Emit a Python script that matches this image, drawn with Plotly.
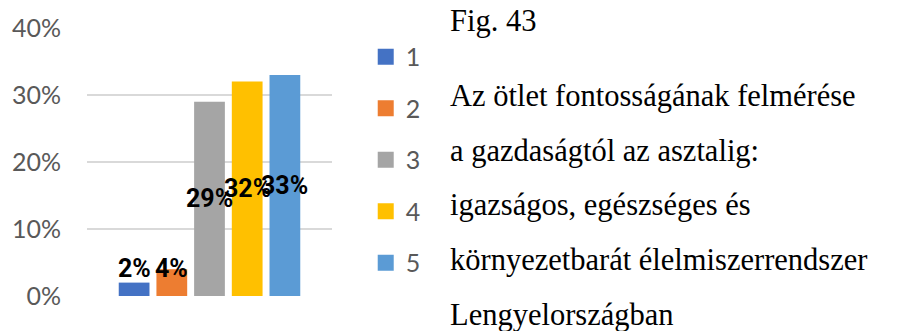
import plotly.graph_objects as go

# Survey answers (importance rating 1-5) and share of respondents
categories = ["1", "2", "3", "4", "5"]
shares = [0.02, 0.04, 0.29, 0.32, 0.33]
colors = ["#4472C4", "#ED7D31", "#A5A5A5", "#FFC000", "#5B9BD5"]
y_ticks = [0, 0.1, 0.2, 0.3, 0.4]
y_tick_labels = ["0%", "10%", "20%", "30%", "40%"]
caption_title = "Fig. 43"
caption_lines = [
    "Az ötlet fontosságának felmérése",
    "a gazdaságtól az asztalig:",
    "igazságos, egészséges és",
    "környezetbarát élelmiszerrendszer",
    "Lengyelországban",
]

W, H = 899, 331
L, R, T, B = 85, 567, 24, 35
PW, PH = W - L - R, H - T - B


def px_x(px):
    return (px - L) / PW


def px_y(py):
    return (H - B - py) / PH


fig = go.Figure()

for i, (cat, val, col) in enumerate(zip(categories, shares, colors)):
    fig.add_trace(go.Bar(
        x=[i], y=[val], width=0.816, marker_color=col, marker_line_width=0,
        name=cat, legendgroup=cat, showlegend=False, hoverinfo="skip",
    ))
    # legend swatch
    fig.add_trace(go.Scatter(
        x=[None], y=[None], mode="markers", name=cat, legendgroup=cat,
        marker=dict(symbol="square", size=16, color=col),
    ))
    # value label, centred in the bar or lifted above short bars
    fig.add_annotation(
        x=i, y=max(val / 2, 0.041), xref="x", yref="y",
        text=f"{val:.0%}", showarrow=False, xanchor="center", yanchor="middle",
        font=dict(family="Roboto", size=25, color="#000000", weight="bold"),
    )

caption_font = dict(family="Liberation Serif", size=30.5, color="#000000")
fig.add_annotation(
    x=px_x(449), y=px_y(17), xref="paper", yref="paper", text=caption_title,
    showarrow=False, xanchor="left", yanchor="middle", font=caption_font,
)
for k, line in enumerate(caption_lines):
    fig.add_annotation(
        x=px_x(449), y=px_y(93 + 55.5 * k), xref="paper", yref="paper", text=line,
        showarrow=False, xanchor="left", yanchor="middle", font=caption_font,
    )

fig.update_layout(
    width=W, height=H,
    margin=dict(l=L, r=R, t=T, b=B, pad=0),
    paper_bgcolor="white", plot_bgcolor="white",
    barmode="overlay",
    showlegend=True,
    legend=dict(
        x=px_x(366), y=px_y(30), xanchor="left", yanchor="top",
        font=dict(family="Lato", size=25, color="#595959"),
        tracegroupgap=16, itemwidth=30, bgcolor="rgba(0,0,0,0)",
    ),
    xaxis=dict(range=[-1.25, 5.25], showticklabels=False, showgrid=False,
               zeroline=False, showline=False, fixedrange=True),
    yaxis=dict(range=[0, 0.4], tickvals=y_ticks, ticktext=y_tick_labels,
               showgrid=True, gridcolor="#D9D9D9", gridwidth=2,
               zeroline=False, showline=False, ticks="",
               ticklabelstandoff=25,
               tickfont=dict(family="Lato", size=25, color="#595959")),
)

fig.write_html("out.html")
